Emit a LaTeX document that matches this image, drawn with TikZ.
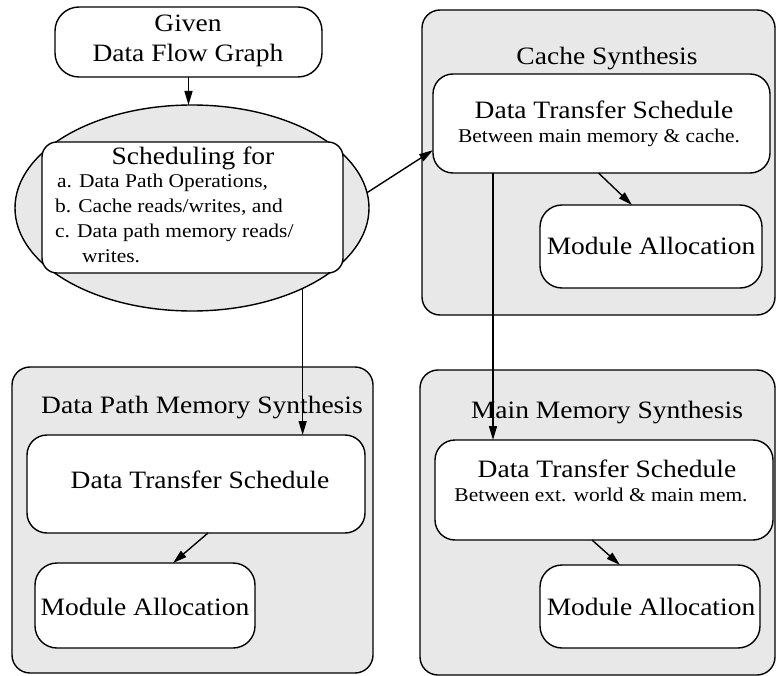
\documentclass[tikz,border=0pt]{standalone}
\usepackage{fontspec}
\setmainfont{Liberation Serif}[FakeStretch=1.1]
\usetikzlibrary{arrows.meta,shapes.geometric}

\begin{document}
\begin{tikzpicture}[x=1pt,y=-1pt,
  box/.style={draw,line width=1.4pt,rounded corners=20pt,fill=white,inner sep=0pt,outer sep=0pt},
  group/.style={draw,line width=1.4pt,rounded corners=18pt,fill=black!9,inner sep=0pt,outer sep=0pt},
  big/.style={font=\fontsize{25}{30}\selectfont,inner sep=0pt,anchor=base,text height=17pt,text depth=4pt},
  small/.style={font=\fontsize{19.5}{24}\selectfont,inner sep=0pt,anchor=base,text height=13pt,text depth=4pt},
  item/.style={font=\fontsize{19.5}{24}\selectfont,inner sep=0pt,anchor=base west,text height=13pt,text depth=4pt},
  arr/.style={line width=1.4pt,-{Triangle[length=14pt,width=8pt]}}]
\useasboundingbox (0,0) rectangle (776,676);

% synthesis groups
\node[group,minimum width=353pt,minimum height=305pt] (cgrp) at (598.5,162.5) {};
\node[group,minimum width=361pt,minimum height=306pt] (dgrp) at (192.5,520) {};
\node[group,minimum width=355pt,minimum height=305pt] (mgrp) at (597.5,522.5) {};

% input and scheduling
\node[box,rounded corners=24pt,minimum width=267pt,minimum height=70pt] (given) at (188.5,42) {};
\node[draw,ellipse,line width=1.4pt,fill=black!9,inner sep=0pt,outer sep=0pt,
      minimum width=354pt,minimum height=206pt] (sched) at (192,208) {};
\node[box,rounded corners=15pt,minimum width=301pt,minimum height=131pt] (sbox) at (192.5,207.5) {};

% cache synthesis
\node[box,minimum width=337pt,minimum height=99pt] (cdts) at (601.5,123.5) {};
\node[box,rounded corners=22pt,minimum width=222pt,minimum height=83pt] (cma) at (651,246.5) {};

% data path memory synthesis
\node[box,minimum width=338pt,minimum height=98pt] (ddts) at (196,484) {};
\node[box,rounded corners=22pt,minimum width=220pt,minimum height=85pt] (dma) at (145,605.5) {};

% main memory synthesis
\node[box,minimum width=338pt,minimum height=100pt] (mdts) at (604,490) {};
\node[box,rounded corners=22pt,minimum width=220pt,minimum height=83pt] (mma) at (650,606.5) {};

% texts
\node[big] (givenA) at (188,32) {Given};
\node[big] (givenB) at (188,62) {Data Flow Graph};
\node[big] (schedT) at (193,165) {Scheduling for};
\node[item] (itemA) at (57,188) {a. Data Path Operations,};
\node[item] (itemB) at (55,213) {b. Cache reads/writes, and};
\node[item] (itemC) at (55,238) {c. Data path memory reads/};
\node[item] (itemD) at (82,263) {writes.};

\node[big] (cttl) at (607,65) {Cache Synthesis};
\node[big] (cdtsA) at (604,119) {Data Transfer Schedule};
\node[small] (cdtsB) at (599,143) {Between main memory \& cache.};
\node[big] (cmaT) at (651,255) {Module Allocation};

\node[big] (dttl) at (202,413) {Data Path Memory Synthesis};
\node[big] (ddtsA) at (200,488) {Data Transfer Schedule};
\node[big] (dmaT) at (145,615) {Module Allocation};

\node[big] (mttl) at (607,418) {Main Memory Synthesis};
\node[big] (mdtsA) at (607,477) {Data Transfer Schedule};
\node[small] (mdtsB) at (601,501) {Between ext. world \& main mem.};
\node[big] (mmaT) at (651,615) {Module Allocation};

% connectors
\draw[arr] (given.south) -- (given.south |- sched.north);
\draw[arr] (sched.5) -- (cdts.189);
\draw[arr] (sched.-36) -- (sched.-36 |- ddts.north);
\draw[arr] ([xshift=-108.5pt]cdts.south) -- ([xshift=-108.5pt]cdts.south |- mdts.north);
\draw[arr] ([xshift=-3pt]cdts.south) -- ([xshift=-19pt]cma.north);
\draw[arr] ([xshift=12pt]ddts.south) -- ([xshift=28pt]dma.north);
\draw[arr] ([xshift=-12pt]mdts.south) -- ([xshift=-30pt]mma.north);
\end{tikzpicture}
\end{document}
